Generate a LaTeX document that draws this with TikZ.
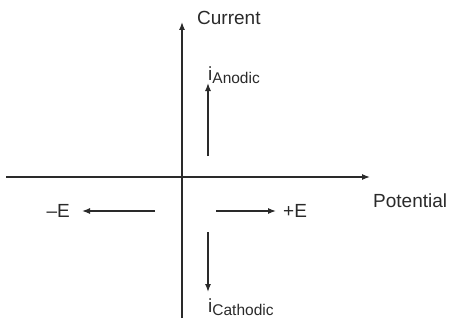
\documentclass[tikz,border=0pt]{standalone}
\usepackage{fontspec}
\setmainfont{Liberation Sans}
\usetikzlibrary{arrows.meta}
\definecolor{Ink}{HTML}{2A2A2A}
\newcommand{\curr}[1]{i\raisebox{-0.3ex}{\fontsize{15.5}{16}\selectfont #1}}

\begin{document}
\begin{tikzpicture}[x=1pt, y=-1pt,
    axis/.style={draw=Ink, line width=1.3pt, -{Latex[length=8pt,width=6pt]}},
    lbl/.style={text=Ink, inner sep=0pt, font=\fontsize{19}{21}\selectfont}]
    \useasboundingbox (0,0) rectangle (452,321);
    % axes
    \coordinate (ybot) at (182,318);
    \coordinate (ytop) at (182,22);
    \coordinate (xleft) at (6,177);
    \coordinate (xright) at (370,177);
    \draw[axis] (ybot) -- (ytop);
    \draw[axis] (xleft) -- (xright);
    \node[lbl, anchor=base west] (current) at (197,25) {Current};
    \node[lbl, anchor=base west] (potential) at (373,207) {Potential};
    % current directions
    \coordinate (anodic0) at (208,156);
    \coordinate (anodic1) at (208,83);
    \coordinate (cathodic0) at (208,232);
    \coordinate (cathodic1) at (208,292);
    \draw[axis] (anodic0) -- (anodic1);
    \draw[axis] (cathodic0) -- (cathodic1);
    \node[lbl, anchor=south west] (ianodic) at (208,84) {\curr{Anodic}};
    \node[lbl, anchor=north west] (icathodic) at (208,299) {\curr{Cathodic}};
    % potential directions
    \coordinate (neg0) at (155,211);
    \coordinate (neg1) at (82,211);
    \coordinate (pos0) at (216,211);
    \coordinate (pos1) at (276,211);
    \draw[axis] (neg0) -- (neg1);
    \draw[axis] (pos0) -- (pos1);
    \node[lbl, anchor=base east] (negE) at (70,217) {\textendash E};
    \node[lbl, anchor=base west] (posE) at (283,217) {+E};
  \end{tikzpicture}
\end{document}
